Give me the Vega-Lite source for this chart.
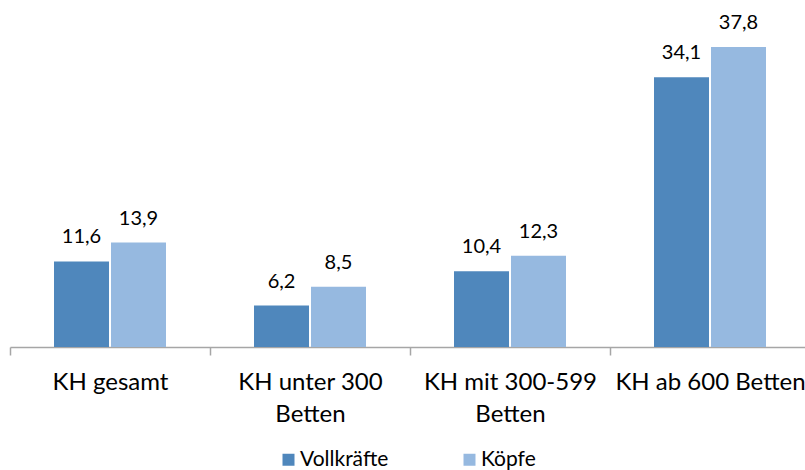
{
  "$schema": "https://vega.github.io/schema/vega-lite/v6.json",
  "width": 800,
  "height": 318,
  "autosize": {"type": "none"},
  "padding": {"left": 10, "top": 29, "right": 0, "bottom": 123},
  "background": "white",
  "config": {
    "view": {"stroke": null},
    "locale": {"number": {"decimal": ",", "thousands": ".", "grouping": [3], "currency": ["", " €"]}},
    "font": "Lato"
  },
  "data": {
    "values": [
      {"gruppe": "KH gesamt", "serie": "Vollkräfte", "wert": 11.6},
      {"gruppe": "KH gesamt", "serie": "Köpfe", "wert": 13.9},
      {"gruppe": "KH unter 300|Betten", "serie": "Vollkräfte", "wert": 6.2},
      {"gruppe": "KH unter 300|Betten", "serie": "Köpfe", "wert": 8.5},
      {"gruppe": "KH mit 300-599|Betten", "serie": "Vollkräfte", "wert": 10.4},
      {"gruppe": "KH mit 300-599|Betten", "serie": "Köpfe", "wert": 12.3},
      {"gruppe": "KH ab 600 Betten", "serie": "Vollkräfte", "wert": 34.1},
      {"gruppe": "KH ab 600 Betten", "serie": "Köpfe", "wert": 37.8}
    ]
  },
  "encoding": {
    "x": {
      "field": "gruppe",
      "type": "nominal",
      "sort": null,
      "scale": {"paddingInner": 0, "paddingOuter": 0},
      "axis": {
        "title": null,
        "labelAngle": 0,
        "labelExpr": "isValid(datum.value) ? split(datum.value, '|') : ''",
        "labelFont": "Lato",
        "labelFontSize": 24,
        "labelColor": "#000000",
        "labelLineHeight": 32,
        "labelPadding": 15,
        "labelLimit": 400,
        "labelOverlap": false,
        "tickBand": "extent",
        "tickSize": 8,
        "tickColor": "#a6a6a6",
        "domainColor": "#a6a6a6",
        "domainWidth": 1.5,
        "tickWidth": 1.5,
        "grid": false
      }
    },
    "xOffset": {
      "field": "serie",
      "type": "nominal",
      "sort": ["Vollkräfte", "Köpfe"],
      "scale": {"paddingInner": 0.035, "paddingOuter": 0.772}
    },
    "y": {
      "field": "wert",
      "type": "quantitative",
      "scale": {"domain": [1.14, 40], "zero": false, "nice": false},
      "axis": null
    }
  },
  "layer": [
    {
      "mark": {"type": "bar", "clip": true},
      "encoding": {
        "color": {
          "field": "serie",
          "type": "nominal",
          "sort": ["Vollkräfte", "Köpfe"],
          "scale": {"domain": ["Vollkräfte", "Köpfe"], "range": ["#4f87bc", "#96b9e0"]},
          "legend": {
            "title": null,
            "orient": "none",
            "direction": "horizontal",
            "legendX": 268,
            "legendY": 420,
            "symbolType": "square",
            "symbolSize": 144,
            "symbolStrokeWidth": 0,
            "labelFont": "Lato",
            "labelFontSize": 21,
            "labelColor": "#000000",
            "labelOffset": 1,
            "columnPadding": 70
          }
        }
      }
    },
    {
      "mark": {"type": "text", "baseline": "alphabetic", "dy": -18, "fontSize": 20, "font": "Lato", "color": "#000000"},
      "encoding": {
        "text": {"field": "wert", "type": "quantitative", "format": ".1f"}
      }
    }
  ]
}
